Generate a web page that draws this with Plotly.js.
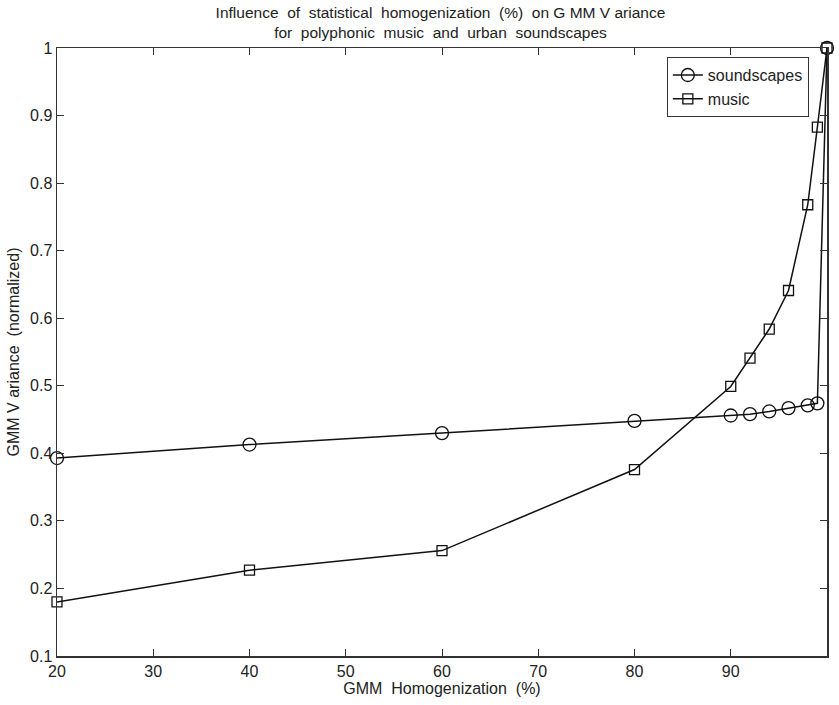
<!DOCTYPE html>
<html>
<head>
<meta charset="utf-8">
<script src="https://cdn.plot.ly/plotly-3.0.1.min.js"></script>
<style>html,body{margin:0;padding:0;background:#fff;}#chart{width:839px;height:705px;}</style>
</head>
<body>
<div id="chart"></div>
<script>
const homogenization = [20, 40, 60, 80, 90, 92, 94, 96, 98, 99, 100];
const soundscapes = [0.393, 0.413, 0.430, 0.448, 0.456, 0.458, 0.462, 0.467, 0.471, 0.474, 1.0];
const music = [0.180, 0.227, 0.256, 0.376, 0.499, 0.541, 0.584, 0.641, 0.768, 0.883, 1.0];
const xTicks = [20, 30, 40, 50, 60, 70, 80, 90, 100];
const yTicks = [0.1, 0.2, 0.3, 0.4, 0.5, 0.6, 0.7, 0.8, 0.9, 1];
const yTickText = ['0.1', '0.2', '0.3', '0.4', '0.5', '0.6', '0.7', '0.8', '0.9', '1'];

const FONT = 'Liberation Sans, Arial, sans-serif';
const traces = [
  {
    x: homogenization, y: soundscapes, name: 'soundscapes', type: 'scatter', mode: 'lines+markers',
    line: {color: '#111', width: 1.5},
    marker: {symbol: 'circle-open', size: 13, color: '#111', line: {width: 1.3}},
    cliponaxis: false
  },
  {
    x: homogenization, y: music, name: 'music', type: 'scatter', mode: 'lines+markers',
    line: {color: '#111', width: 1.5},
    marker: {symbol: 'square-open', size: 10, color: '#111', line: {width: 1.3}},
    cliponaxis: false
  }
];
const axisCommon = {
  showline: true, linecolor: '#333', linewidth: 1.5, mirror: 'ticks',
  ticks: 'inside', ticklen: 7, tickcolor: '#333', tickwidth: 1,
  showgrid: false, zeroline: false,
  tickfont: {family: FONT, size: 16, color: '#222'}
};
const layout = {
  width: 839, height: 705,
  margin: {l: 57, r: 12, t: 48, b: 49},
  paper_bgcolor: '#fff', plot_bgcolor: '#fff',
  font: {family: FONT, color: '#222'},
  title: {
    text: 'Influence  of  statistical  homogenization  (%)  on G MM V ariance<br>for  polyphonic  music  and  urban  soundscapes',
    font: {family: FONT, size: 15.5, color: '#222'},
    x: 0.525, xanchor: 'center', yref: 'container', y: 0.975, yanchor: 'middle'
  },
  xaxis: Object.assign({}, axisCommon, {
    range: [20, 100], tickvals: xTicks, ticktext: xTicks.map(String),
    title: {text: 'GMM  Homogenization  (%)', font: {family: FONT, size: 16, color: '#222'}, standoff: 4}
  }),
  yaxis: Object.assign({}, axisCommon, {
    range: [0.1, 1], tickvals: yTicks, ticktext: yTickText,
    title: {text: 'GMM V ariance  (normalized)', font: {family: FONT, size: 16, color: '#222'}, standoff: 6}
  }),
  showlegend: true,
  legend: {
    x: 0.792, y: 0.985, xanchor: 'left', yanchor: 'top',
    bgcolor: '#fff', bordercolor: '#333', borderwidth: 1,
    font: {family: FONT, size: 16, color: '#222'},
    tracegroupgap: 0, itemwidth: 30
  }
};
Plotly.newPlot('chart', traces, layout, {displayModeBar: false, staticPlot: true});
</script>
</body>
</html>
